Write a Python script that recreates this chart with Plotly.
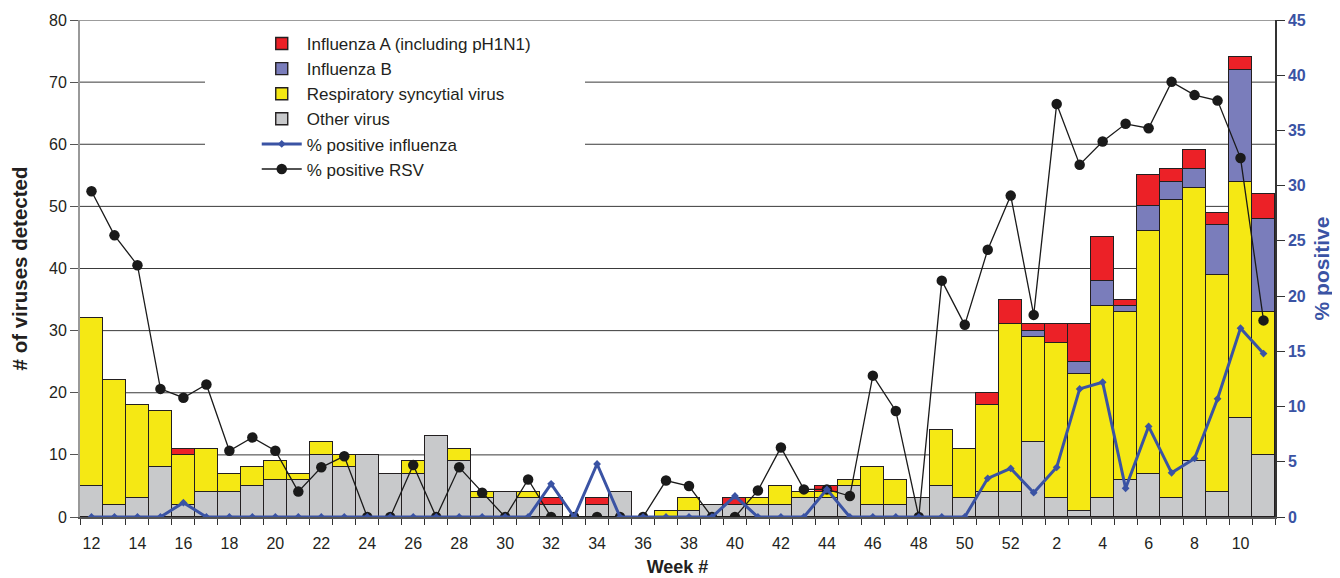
import plotly.graph_objects as go

weeks = list(range(12, 53)) + list(range(1, 12))
tick_labels = [str(w) for w in weeks]

other = [5, 2, 3, 8, 2, 4, 4, 5, 6, 6, 10, 8, 10, 7, 7, 13, 9, 3, 4, 3, 2, 0, 2, 4, 0, 0,
         1, 2, 2, 2, 2, 3, 3, 5, 2, 2, 3, 5, 3, 4, 4,
         12, 3, 1, 3, 6, 7, 3, 9, 4, 16, 10]
rsv = [27, 20, 15, 9, 8, 7, 3, 3, 3, 1, 2, 2, 0, 0, 2, 0, 2, 1, 0, 1, 0, 0, 0, 0, 0, 1,
       2, 0, 0, 1, 3, 1, 1, 1, 6, 4, 0, 9, 8, 14, 27,
       17, 25, 22, 31, 27, 39, 48, 44, 35, 38, 23]
flu_b = [0] * 41 + [1, 0, 2, 4, 1, 4, 3, 3, 8, 18, 15]
flu_a = [0, 0, 0, 0, 1, 0, 0, 0, 0, 0, 0, 0, 0, 0, 0, 0, 0, 0, 0, 0, 1, 0, 1, 0, 0, 0,
         0, 0, 1, 0, 0, 0, 1, 0, 0, 0, 0, 0, 0, 2, 4,
         1, 3, 6, 7, 1, 5, 2, 3, 2, 2, 4]
pct_flu = [0, 0, 0, 0, 1.3, 0, 0, 0, 0, 0, 0, 0, 0, 0, 0, 0, 0, 0, 0, 0, 3.0, 0, 4.8, 0, 0, 0,
           0, 0, 1.9, 0, 0, 0, 2.5, 0, 0, 0, 0, 0, 0, 3.5, 4.4,
           2.2, 4.5, 11.6, 12.2, 2.6, 8.2, 4.0, 5.3, 10.7, 17.1, 14.8]
pct_rsv = [29.5, 25.5, 22.8, 11.6, 10.8, 12.0, 6.0, 7.2, 6.0, 2.3, 4.5, 5.5, 0, 0, 4.7, 0,
           4.5, 2.2, 0, 3.4, 0, 0, 0, 0, 0, 3.3, 2.8, 0, 0, 2.4, 6.3, 2.5, 2.5, 1.9,
           12.8, 9.6, 0, 21.4, 17.4, 24.2, 29.1,
           18.3, 37.4, 31.9, 34.0, 35.6, 35.2, 39.4, 38.2, 37.7, 32.5, 17.8]

left_ticks = list(range(0, 81, 10))
right_ticks = list(range(0, 46, 5))

x = list(range(len(weeks)))
FONT = "Arial, Liberation Sans, sans-serif"
BLUE = "#3a53a4"
INK = "#231f20"
outline = dict(color=INK, width=1.4)

fig = go.Figure()
fig.add_trace(go.Bar(x=x, y=other, name="Other virus", marker=dict(color="#c8c9cb", line=outline), legendrank=4))
fig.add_trace(go.Bar(x=x, y=rsv, name="Respiratory syncytial virus", marker=dict(color="#f5e814", line=outline), legendrank=3))
fig.add_trace(go.Bar(x=x, y=flu_b, name="Influenza B", marker=dict(color="#7a7dbb", line=outline), legendrank=2))
fig.add_trace(go.Bar(x=x, y=flu_a, name="Influenza A (including pH1N1)", marker=dict(color="#ec2127", line=outline), legendrank=1))
fig.add_trace(go.Scatter(x=x, y=pct_rsv, name="% positive RSV", yaxis="y2", mode="lines+markers",
                         line=dict(color="#1a1a1a", width=1.3), marker=dict(color="#1a1a1a", size=10.5, symbol="circle"),
                         legendrank=6))
fig.add_trace(go.Scatter(x=x, y=pct_flu, name="% positive influenza", yaxis="y2", mode="lines+markers",
                         line=dict(color=BLUE, width=3), marker=dict(color=BLUE, size=6, symbol="diamond"),
                         legendrank=5))

# horizontal gridlines drawn as shapes, then a white panel behind the legend hiding two of them
for v in left_ticks[1:]:
    fig.add_shape(type="line", xref="paper", yref="y", x0=0, x1=1, y0=v, y1=v,
                  line=dict(color="#3a3a3a", width=1), layer="below")
fig.add_shape(type="rect", xref="paper", yref="y", x0=0.1046, x1=0.4226, y0=52.6, y1=78.4,
              fillcolor="white", line=dict(width=0), layer="below")

fig.update_layout(
    width=1332, height=570,
    margin=dict(l=72, r=65, t=12, b=61),
    plot_bgcolor="white", paper_bgcolor="white",
    barmode="stack", bargap=0,
    font=dict(family=FONT, size=16, color=INK),
    showlegend=True,
    legend=dict(x=0.1479, y=0.988, xanchor="left", yanchor="top", bgcolor="rgba(0,0,0,0)",
                font=dict(size=17, color=INK), itemwidth=40, tracegroupgap=0, traceorder="normal"),
    xaxis=dict(range=[-0.5, len(x) - 0.5], tickmode="array", tickvals=x[::2], ticktext=tick_labels[::2],
               ticks="", showgrid=False, showline=True, linecolor="#555", linewidth=1.5,
               minor=dict(tick0=-0.5, dtick=1, ticks="outside", ticklen=6, tickcolor="#333", showgrid=False),
               tickfont=dict(size=16), zeroline=False, automargin=False, ticklabelstandoff=11,
               title=dict(text="<b>Week #</b>", font=dict(size=18), standoff=9)),
    yaxis=dict(range=[0, 80], tickmode="array", tickvals=left_ticks, showgrid=False,
               ticks="outside", ticklen=8, tickcolor="#555", showline=True, linecolor="#999", linewidth=2,
               zeroline=False, tickfont=dict(size=16), automargin=False,
               title=dict(text="<b># of viruses detected</b>", font=dict(size=20.5), standoff=20)),
    yaxis2=dict(range=[0, 45], tickmode="array", tickvals=right_ticks, overlaying="y", side="right", showgrid=False,
                ticks="outside", ticklen=8, tickcolor="#333", showline=True, linecolor="#333", linewidth=1.5,
                zeroline=False, automargin=False,
                tickfont=dict(size=16, color=BLUE, weight="bold"),
                title=dict(text="<b>% positive</b>", font=dict(size=21, color=BLUE), standoff=9)),
)

fig.write_html("out.html")
